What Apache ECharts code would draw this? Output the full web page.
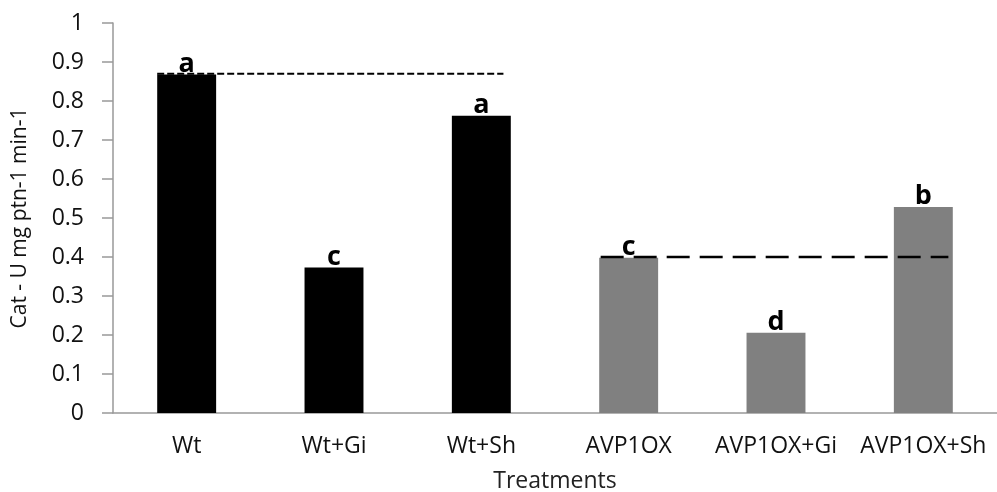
<!DOCTYPE html>
<html>
<head>
<meta charset="utf-8">
<script src="https://cdn.jsdelivr.net/npm/echarts@6/dist/echarts.min.js"></script>
<style>
  html, body { margin: 0; padding: 0; background: #fff; }
  #chart { width: 997px; height: 492px; }
</style>
</head>
<body>
<div id="chart"></div>
<script>
// Catalase activity per treatment
const categories = ['Wt', 'Wt+Gi', 'Wt+Sh', 'AVP1OX', 'AVP1OX+Gi', 'AVP1OX+Sh'];
const values = [0.868, 0.373, 0.762, 0.398, 0.206, 0.528];
const letters = ['a', 'c', 'a', 'c', 'd', 'b'];
const barColors = ['#000000', '#000000', '#000000', '#808080', '#808080', '#808080'];
const yTicks = [0, 0.1, 0.2, 0.3, 0.4, 0.5, 0.6, 0.7, 0.8, 0.9, 1];

// Reference levels (x in category units along the plot, y in activity units)
const wtRef = [[0.30, 0.87], [2.65, 0.87]];
const oxRef = [[3.31, 0.40], [5.67, 0.40]];

const font = 'Open Sans';
const chart = echarts.init(document.getElementById('chart'));

chart.setOption({
  animation: false,
  backgroundColor: '#ffffff',
  grid: { left: 113, right: 0, top: 23, bottom: 79, outerBoundsMode: 'none', containLabel: false },
  xAxis: [
    {
      type: 'category',
      data: categories,
      name: 'Treatments',
      nameLocation: 'middle',
      nameGap: 57,
      nameTextStyle: { fontFamily: font, fontSize: 23, color: '#222' },
      axisLine: { lineStyle: { color: '#999999', width: 1.5 } },
      axisTick: { show: false },
      axisLabel: { fontFamily: font, fontSize: 23, color: '#111', margin: 22, interval: 0 }
    },
    {
      type: 'value',
      min: 0,
      max: 6,
      show: false
    }
  ],
  yAxis: {
    type: 'value',
    min: 0,
    max: 1,
    interval: 0.1,
    name: 'Cat - U mg ptn-1 min-1',
    nameLocation: 'middle',
    nameGap: 82,
    nameRotate: 90,
    nameTextStyle: { fontFamily: font, fontSize: 21, color: '#111' },
    axisLine: { show: true, lineStyle: { color: '#999999', width: 1.5 } },
    axisTick: { show: true, length: 11, lineStyle: { color: '#999999', width: 1.5 } },
    splitLine: { show: false },
    axisLabel: {
      fontFamily: font, fontSize: 23, color: '#111', margin: 29,
      formatter: v => {
        const t = yTicks.find(k => Math.abs(k - v) < 1e-9);
        return t === undefined ? '' : String(t);
      }
    }
  },
  series: [
    {
      type: 'bar',
      barWidth: '40%',
      data: values.map((v, i) => ({ value: v, itemStyle: { color: barColors[i] } })),
      label: {
        show: true,
        position: 'top',
        distance: -3,
        fontFamily: font,
        fontWeight: 'bold',
        fontSize: 27,
        color: '#000',
        formatter: p => letters[p.dataIndex]
      }
    },
    {
      type: 'line',
      xAxisIndex: 1,
      data: wtRef,
      symbol: 'none',
      lineStyle: { color: '#000', width: 2, type: [7, 3] },
      z: 3
    },
    {
      type: 'line',
      xAxisIndex: 1,
      data: oxRef,
      symbol: 'none',
      lineStyle: { color: '#000', width: 2.5, type: [23, 10] },
      z: 3
    }
  ]
});
</script>
</body>
</html>
